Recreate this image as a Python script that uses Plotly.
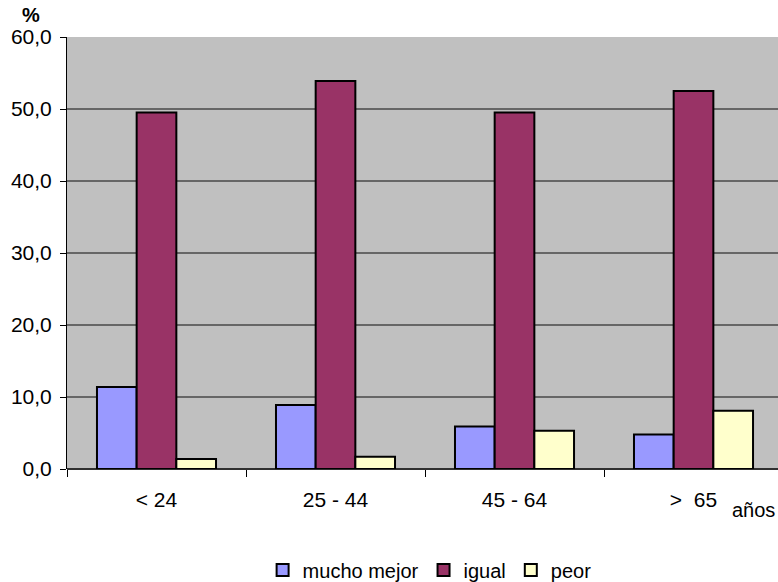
import plotly.graph_objects as go

categories = ["< 24", "25 - 44", "45 - 64", ">  65"]
mucho_mejor = [11.4, 8.9, 5.9, 4.8]
igual = [49.5, 53.9, 49.5, 52.5]
peor = [1.4, 1.7, 5.3, 8.1]

series = [
    ("mucho mejor", mucho_mejor, "#9999FF"),
    ("igual", igual, "#993366"),
    ("peor", peor, "#FFFFCC"),
]

FONT = "Liberation Sans, Arial, sans-serif"

fig = go.Figure()
for name, vals, color in series:
    fig.add_trace(go.Bar(
        name=name, x=categories, y=vals,
        marker=dict(color=color, line=dict(color="black", width=2)),
    ))

plot_w = 778 - 67
plot_h = 582 - 37 - 113

fig.update_layout(
    width=778, height=582,
    margin=dict(l=67, r=0, t=37, b=113, autoexpand=False),
    paper_bgcolor="white",
    plot_bgcolor="#C0C0C0",
    barmode="group",
    bargap=0.335,
    bargroupgap=0,
    separators=",.",
    font=dict(family=FONT, size=20, color="black"),
    showlegend=True,
    legend=dict(
        orientation="h", x=0.51, xanchor="center", y=(469 - 570) / plot_h, yanchor="middle",
        font=dict(family=FONT, size=20, color="black"),
        bgcolor="rgba(0,0,0,0)", traceorder="normal", itemwidth=30,
    ),
    xaxis=dict(
        range=[-0.5, 3.472],
        tickson="boundaries",
        ticks="outside", ticklen=7, tickcolor="black", tickwidth=1,
        showline=False, showgrid=False, automargin=False,
        tickfont=dict(family=FONT, size=21, color="black"),
        ticklabelstandoff=16,
    ),
    yaxis=dict(
        range=[0, 60], dtick=10, tickformat=".1f",
        ticks="outside", ticklen=6, tickcolor="black", automargin=False,
        showline=True, linecolor="black", linewidth=1,
        showgrid=True, gridcolor="#666666", gridwidth=1.5,
        zeroline=True, zerolinecolor="#303030", zerolinewidth=2,
        tickfont=dict(family=FONT, size=21, color="black"),
        ticklabelstandoff=4,
    ),
    annotations=[
        dict(text="<b>%</b>", xref="paper", yref="paper",
             x=(31 - 67) / plot_w, y=(469 - 15) / plot_h,
             xanchor="center", yanchor="middle", showarrow=False,
             font=dict(family=FONT, size=20, color="black")),
        dict(text="años", xref="paper", yref="paper",
             x=(777 - 67) / plot_w, y=(469 - 510) / plot_h,
             xanchor="right", yanchor="middle", showarrow=False,
             font=dict(family=FONT, size=20, color="black")),
    ],
)

fig.write_html(
    "out.html",
    config={"displayModeBar": False},
    post_script="document.body.style.margin='0';document.body.style.overflow='hidden';",
)
